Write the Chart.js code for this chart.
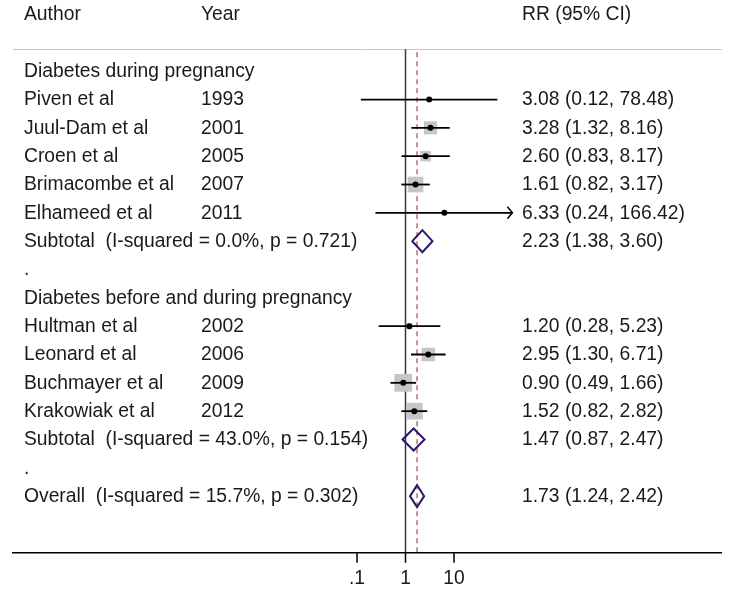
<!DOCTYPE html>
<html>
<head>
<meta charset="utf-8">
<script src="https://cdn.jsdelivr.net/npm/chart.js@4/dist/chart.umd.min.js"></script>
<style>
  html, body { margin: 0; padding: 0; background: #ffffff; }
  #wrap { position: relative; width: 733px; height: 590px; }
</style>
</head>
<body>
<div id="wrap"><canvas id="c"></canvas></div>
<script>
// ---------------- DATA ----------------
const headers = ["Author", "Year", "RR (95% CI)"];
const groupNames = ["Diabetes during pregnancy", "Diabetes before and during pregnancy"];
const studyNames = ["Piven et al", "Juul-Dam et al", "Croen et al", "Brimacombe et al", "Elhameed et al",
                    "Hultman et al", "Leonard et al", "Buchmayer et al", "Krakowiak et al"];
const studyYears = ["1993", "2001", "2005", "2007", "2011", "2002", "2006", "2009", "2012"];
const studyGroup = [0, 0, 0, 0, 0, 1, 1, 1, 1];
const studyRR    = [3.08, 3.28, 2.60, 1.61, 6.33, 1.20, 2.95, 0.90, 1.52];
const studyLower = [0.12, 1.32, 0.83, 0.82, 0.24, 0.28, 1.30, 0.49, 0.82];
const studyUpper = [78.48, 8.16, 8.17, 3.17, 166.42, 5.23, 6.71, 1.66, 2.82];
const studyWeight = [1.3, 12.4, 8.0, 17.9, 0.7, 2.9, 13.5, 23.0, 20.4]; // estimated % weights
const subtotalLabels = ["Subtotal  (I-squared = 0.0%, p = 0.721)", "Subtotal  (I-squared = 43.0%, p = 0.154)"];
const subtotalRR    = [2.23, 1.47];
const subtotalLower = [1.38, 0.87];
const subtotalUpper = [3.60, 2.47];
const overallLabel = "Overall  (I-squared = 15.7%, p = 0.302)";
const overallRR = [1.73];
const overallLower = [1.24];
const overallUpper = [2.42];
const xTickValues = [0.1, 1, 10];
const xTickLabels = [".1", "1", "10"];

// ---------------- LAYOUT (rows) ----------------
const ROW_H = 28.33;       // px per row
const ROW0_Y = 71.2;       // pixel y of row 0
const PX_DECADE = 48.5;    // px per decade on the log axis
const X_ONE = 405.5;       // pixel x of RR = 1
const W = 733, H = 590;
const xMin = Math.pow(10, -X_ONE / PX_DECADE);
const xMax = Math.pow(10, (W - X_ONE) / PX_DECADE);
const yMin = -ROW0_Y / ROW_H;
const yMax = (H - ROW0_Y) / ROW_H;
const clipMax = 160;       // right end of plotted range (arrows beyond)

// build rows
const rows = [];
let r = 0;
const studyRow = [];
for (let g = 0; g < groupNames.length; g++) {
  rows.push({ type: "group", row: r++, text: groupNames[g] });
  for (let i = 0; i < studyNames.length; i++) {
    if (studyGroup[i] !== g) continue;
    studyRow[i] = r;
    rows.push({ type: "study", row: r++, idx: i });
  }
  rows.push({ type: "sub", row: r++, g });
  rows.push({ type: "dot", row: r++ });
}
const overallRow = r++;
const axisRow = r + 1;
const headerRow = -2;
const ruleRow = -0.773;

const fmt = (a, b, c) => `${a.toFixed(2)} (${b.toFixed(2)}, ${c.toFixed(2)})`;
const FONT = '19.3px "Liberation Sans", Arial, Helvetica, sans-serif';
const TXT = '#1a1a1a';
const COL_AUTHOR = 24, COL_YEAR = 201, COL_RR = 522;

const boxSide = w => Math.sqrt(w) * 3.7;

const forestPlugin = {
  id: 'forest',
  beforeDatasetsDraw(chart) {
    const ctx = chart.ctx, xs = chart.scales.x, ys = chart.scales.y;
    const top = ys.getPixelForValue(ruleRow);
    const bot = ys.getPixelForValue(axisRow);
    ctx.save();
    ctx.strokeStyle = '#c8c8c8'; ctx.lineWidth = 1;
    ctx.beginPath(); ctx.moveTo(13, Math.round(top) + 0.5); ctx.lineTo(722, Math.round(top) + 0.5); ctx.stroke();
    const x1 = xs.getPixelForValue(1);
    ctx.strokeStyle = '#3a3a3a'; ctx.lineWidth = 1.5;
    ctx.beginPath(); ctx.moveTo(x1, top); ctx.lineTo(x1, bot); ctx.stroke();
    const xo = xs.getPixelForValue(overallRR[0]);
    ctx.strokeStyle = '#a65a5a'; ctx.lineWidth = 1.3; ctx.setLineDash([5, 4]);
    ctx.beginPath(); ctx.moveTo(xo, top + 3); ctx.lineTo(xo, bot); ctx.stroke();
    ctx.restore();
  },
  afterDatasetDraw(chart, args) {
    if (args.index !== 1) return;
    const ctx = chart.ctx, xs = chart.scales.x, ys = chart.scales.y;
    ctx.save();
    ctx.strokeStyle = '#000'; ctx.lineWidth = 1.8;
    for (let i = 0; i < studyNames.length; i++) {
      const y = ys.getPixelForValue(studyRow[i]);
      const xl = xs.getPixelForValue(studyLower[i]);
      const clipped = studyUpper[i] > clipMax;
      const xr = xs.getPixelForValue(Math.min(studyUpper[i], clipMax));
      ctx.beginPath(); ctx.moveTo(xl, y); ctx.lineTo(xr, y); ctx.stroke();
      if (clipped) {
        ctx.lineWidth = 1.5;
        ctx.beginPath(); ctx.moveTo(xr - 5, y - 6); ctx.lineTo(xr, y); ctx.lineTo(xr - 5, y + 6); ctx.stroke();
        ctx.lineWidth = 1.8;
      }
    }
    ctx.restore();
  },
  afterDatasetsDraw(chart) {
    const ctx = chart.ctx, xs = chart.scales.x, ys = chart.scales.y;
    ctx.save();
    const diamond = (rr, lo, hi, row) => {
      const y = ys.getPixelForValue(row);
      const h = 11;
      ctx.beginPath();
      ctx.moveTo(xs.getPixelForValue(lo), y);
      ctx.lineTo(xs.getPixelForValue(rr), y - h);
      ctx.lineTo(xs.getPixelForValue(hi), y);
      ctx.lineTo(xs.getPixelForValue(rr), y + h);
      ctx.closePath();
      ctx.stroke();
    };
    ctx.strokeStyle = '#2b1a6b'; ctx.lineWidth = 2; ctx.lineJoin = 'miter';
    rows.filter(o => o.type === 'sub').forEach(o => diamond(subtotalRR[o.g], subtotalLower[o.g], subtotalUpper[o.g], o.row));
    diamond(overallRR[0], overallLower[0], overallUpper[0], overallRow);

    ctx.font = FONT; ctx.fillStyle = TXT; ctx.textBaseline = 'middle'; ctx.textAlign = 'left';
    const hy = ys.getPixelForValue(headerRow);
    ctx.fillText(headers[0], COL_AUTHOR, hy);
    ctx.fillText(headers[1], COL_YEAR, hy);
    ctx.fillText(headers[2], COL_RR, hy);
    rows.forEach(o => {
      const y = ys.getPixelForValue(o.row) + 0.5;
      if (o.type === 'group') ctx.fillText(o.text, COL_AUTHOR, y);
      else if (o.type === 'dot') ctx.fillText('.', COL_AUTHOR, y);
      else if (o.type === 'study') {
        const i = o.idx;
        ctx.fillText(studyNames[i], COL_AUTHOR, y);
        ctx.fillText(studyYears[i], COL_YEAR, y);
        ctx.fillText(fmt(studyRR[i], studyLower[i], studyUpper[i]), COL_RR, y);
      } else if (o.type === 'sub') {
        ctx.fillText(subtotalLabels[o.g], COL_AUTHOR, y);
        ctx.fillText(fmt(subtotalRR[o.g], subtotalLower[o.g], subtotalUpper[o.g]), COL_RR, y);
      }
    });
    const oy = ys.getPixelForValue(overallRow) + 0.5;
    ctx.fillText(overallLabel, COL_AUTHOR, oy);
    ctx.fillText(fmt(overallRR[0], overallLower[0], overallUpper[0]), COL_RR, oy);

    const ay = ys.getPixelForValue(axisRow);
    ctx.strokeStyle = '#000'; ctx.lineWidth = 1.6;
    ctx.beginPath(); ctx.moveTo(12, ay); ctx.lineTo(722, ay); ctx.stroke();
    ctx.lineWidth = 1.5; ctx.textAlign = 'center';
    xTickValues.forEach((v, k) => {
      const x = xs.getPixelForValue(v);
      ctx.beginPath(); ctx.moveTo(x, ay); ctx.lineTo(x, ay + 10); ctx.stroke();
      ctx.fillText(xTickLabels[k], x, ay + 26);
    });
    ctx.restore();
  }
};

new Chart(document.getElementById('c'), {
  type: 'scatter',
  data: {
    datasets: [
      {
        label: 'RR',
        data: studyRR.map((v, i) => ({ x: v, y: studyRow[i] })),
        pointRadius: 3, pointHoverRadius: 3,
        pointBackgroundColor: '#000', pointBorderColor: '#000', pointBorderWidth: 0,
        order: 0
      },
      {
        label: 'Weight',
        data: studyRR.map((v, i) => ({ x: v, y: studyRow[i] })),
        pointStyle: 'rect',
        pointRadius: studyWeight.map(w => boxSide(w) / Math.SQRT2),
        pointHoverRadius: studyWeight.map(w => boxSide(w) / Math.SQRT2),
        pointBackgroundColor: '#c6c6c6', pointBorderWidth: 0, pointBorderColor: 'rgba(0,0,0,0)',
        order: 1
      }
    ]
  },
  options: {
    responsive: true,
    maintainAspectRatio: false,
    animation: false,
    events: [],
    layout: { padding: 0, autoPadding: false },
    plugins: { legend: { display: false }, tooltip: { enabled: false } },
    scales: {
      x: { type: 'logarithmic', min: xMin, max: xMax, bounds: 'data', display: false },
      y: { type: 'linear', min: yMin, max: yMax, reverse: true, bounds: 'data', display: false }
    }
  },
  plugins: [forestPlugin]
});
</script>
</body>
</html>
